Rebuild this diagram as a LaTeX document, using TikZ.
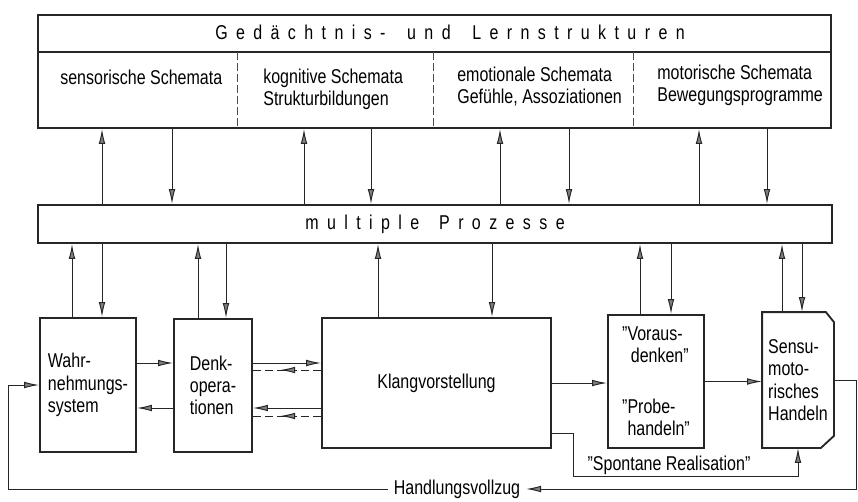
\documentclass[tikz,border=0pt]{standalone}
\usepackage{fontspec}
\setmainfont{Liberation Sans}[FakeStretch=0.8]
\usepackage{tikz}
\usetikzlibrary{calc,arrows.meta}
\usetikzlibrary{decorations.markings}

\newcommand\lbl{\fontsize{12pt}{13.4pt}\selectfont}
\newcommand\spaced{\addfontfeature{LetterSpace=42}}
\newcommand\wgap[1]{\hspace{#1}}

\tikzset{
  box/.style={draw=black!85, line width=1.1pt, inner sep=0pt, align=left, font=\lbl},
  txt/.style={anchor=north west, inner sep=0pt, align=left, font=\lbl},
  tip/.style={-{Latex[length=9pt,width=4pt,fill=black!50]}},
  arr/.style={tip, draw=black!85, line width=0.6pt},
  dasharr/.style={draw=black!85, line width=0.6pt, dash pattern=on 4.8pt off 2.4pt,
    postaction={decorate}, decoration={markings,
      mark=at position 0.6 with {\arrow[solid]{Latex[length=9pt,width=4pt,fill=black!50]}}}},
  sep/.style={draw=black!70, line width=0.5pt, dash pattern=on 4.8pt off 1.8pt}
}

\begin{document}
\begin{tikzpicture}[x=0.6pt,y=-0.6pt]
  \useasboundingbox (0,0) rectangle (858,501);

  % memory and learning structures
  \node[box, minimum width=475.8pt, minimum height=67.8pt] (gl) at (434.5,71.5) {};
  \node[font=\lbl\spaced] (glt) at (450,32)
    {Gedächtnis-\wgap{13pt}und\wgap{13pt}Lernstrukturen};
  \coordinate (dv) at (0,52);
  \draw[black!85, line width=1.1pt] (gl.west |- dv) -- (gl.east |- dv);
  \foreach \x in {237,433,633}
    \draw[sep] (\x,52) -- (\x,128);

  \node[txt] (sens) at (60,70) {sensorische Schemata};
  \node[txt] (kog) at (263,68.5) {kognitive Schemata\\Strukturbildungen};
  \node[txt] (emo) at (457,66.5) {emotionale Schemata\\Gefühle, Assoziationen};
  \node[txt] (mot) at (657,64.5) {motorische Schemata\\Bewegungsprogramme};

  % processes
  \node[box, minimum width=476.4pt, minimum height=22.8pt] (mp) at (435,224)
    {\spaced multiple\wgap{12pt}Prozesse};

  \foreach \x in {102,304,500,699} {
    \coordinate (p) at (\x,0);
    \draw[arr] (mp.north -| p) -- (gl.south -| p);
  }
  \foreach \x in {172,371,569,767} {
    \coordinate (p) at (\x,0);
    \draw[arr] (gl.south -| p) -- (mp.north -| p);
  }

  % lower row
  \node[box, minimum width=57.6pt, minimum height=80.4pt] (wahr) at (88,385)
    {Wahr-\\nehmungs-\\system};
  \node[box, minimum width=46.8pt, minimum height=79.8pt] (denk) at (213,385.5)
    {Denk-\\opera-\\tionen};
  \node[box, minimum width=137.4pt, minimum height=78pt] (klang) at (436.5,383)
    {Klangvorstellung};
  \node[box, minimum width=57.6pt, minimum height=79.8pt] (vor) at (656,381.5)
    {"Voraus-\\\phantom{"}\,denken"\\[17pt]"Probe-\\\phantom{"}handeln"};
  \node[box, draw=none, minimum width=42pt, minimum height=80.4pt] (sensu) at (798,380)
    {Sensu-\\moto-\\risches\\Handeln};
  \draw[black!85, line width=1.1pt] (sensu.south west) -- (sensu.north west)
    -- ([xshift=-4.8pt]sensu.north east) -- ([yshift=-6pt]sensu.north east)
    -- ([yshift=7.2pt]sensu.south east) -- ([xshift=-7.8pt]sensu.south east) -- cycle;

  \foreach \n/\x in {wahr/72,denk/198,klang/378,vor/640,sensu/782} {
    \coordinate (p) at (\x,0);
    \draw[arr] (\n.north -| p) -- (mp.south -| p);
  }
  \foreach \n/\x in {wahr/102,denk/226,klang/492,vor/671,sensu/802} {
    \coordinate (p) at (\x,0);
    \draw[arr] (mp.south -| p) -- (\n.north -| p);
  }

  % horizontal links
  \coordinate (h1) at (0,363);
  \coordinate (h2) at (0,370);
  \coordinate (h3) at (0,408);
  \coordinate (h4) at (0,416);
  \draw[arr] (wahr.east |- h1) -- (denk.west |- h1);
  \draw[arr] (denk.west |- h3) -- (wahr.east |- h3);
  \draw[arr] (denk.east |- h1) -- (klang.west |- h1);
  \draw[dasharr] (klang.west |- h2) -- (denk.east |- h2);
  \draw[arr] (klang.west |- h3) -- (denk.east |- h3);
  \draw[dasharr] (klang.west |- h4) -- (denk.east |- h4);
  \draw[arr] (klang.east) -- (klang.east -| vor.west);
  \draw[arr] (vor.east) -- (vor.east -| sensu.west);

  % spontaneous realisation
  \coordinate (sp) at (573,476);
  \draw[arr] ([yshift=9pt]klang.south east) -| (sp) -| (sensu.south);
  \node[font=\lbl] (spr) at (669,465) {"Spontane Realisation"};

  % feedback loop
  \node[font=\lbl] (hv) at (457,489) {Handlungsvollzug};
  \coordinate (hr) at (856,489);
  \coordinate (hl) at (8,489);
  \draw[arr] (sensu.east) -- (sensu.east -| hr) -- (hr) -- (hv.east);
  \draw[arr] (hv.west) -- (hl) |- (wahr.west);
\end{tikzpicture}
\end{document}
